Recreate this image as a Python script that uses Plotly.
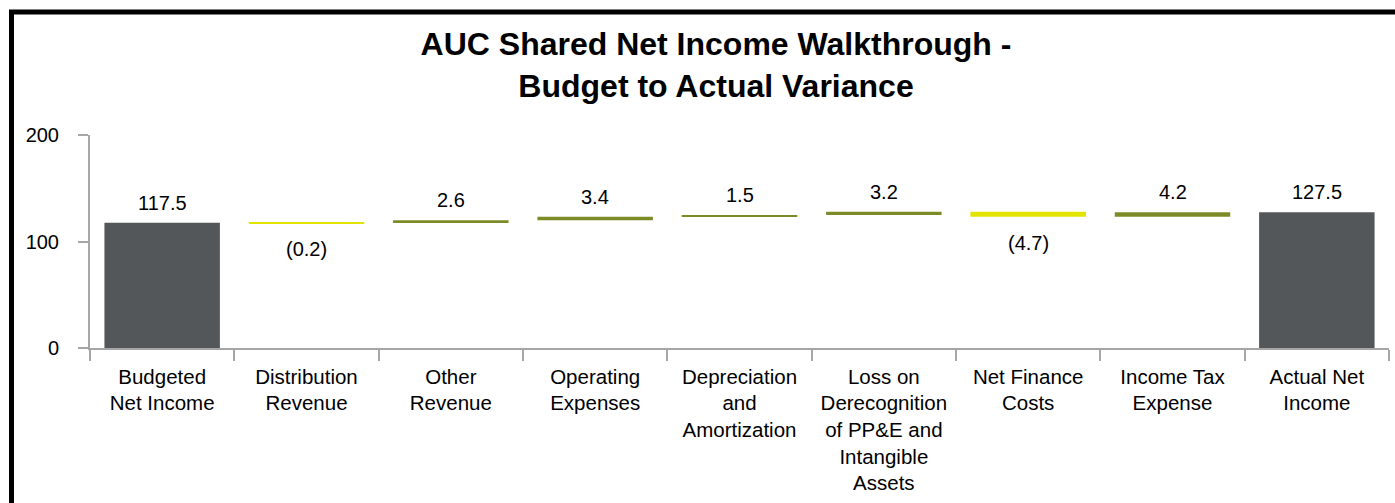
import plotly.graph_objects as go

categories = ["Budgeted<br>Net Income", "Distribution<br>Revenue", "Other<br>Revenue",
              "Operating<br>Expenses", "Depreciation<br>and<br>Amortization",
              "Loss on<br>Derecognition<br>of PP&E and<br>Intangible<br>Assets",
              "Net Finance<br>Costs", "Income Tax<br>Expense", "Actual Net<br>Income"]
values = [117.5, -0.2, 2.6, 3.4, 1.5, 3.2, -4.7, 4.2, 127.5]
measures = ["absolute", "relative", "relative", "relative", "relative",
            "relative", "relative", "relative", "total"]
labels = ["117.5", "(0.2)", "2.6", "3.4", "1.5", "3.2", "(4.7)", "4.2", "127.5"]
y_ticks = [0, 100, 200]

W, H = 1395, 503
ML, MR, MT, MB = 90, 6, 135, 155
FONT = "Liberation Sans, Arial, sans-serif"

fig = go.Figure(go.Waterfall(
    x=categories, y=values, measure=measures,
    increasing=dict(marker=dict(color="#7C8B26")),
    decreasing=dict(marker=dict(color="#E3E300")),
    totals=dict(marker=dict(color="#54575A")),
    connector=dict(visible=False),
    hoverinfo="x+y",
))

# value labels: above the bar for increases/totals, below for decreases
running = 0.0
for cat, val, meas, lab in zip(categories, values, measures, labels):
    if meas == "absolute":
        base, top = 0.0, val
        running = val
    elif meas == "total":
        base, top = 0.0, running
    else:
        base, top = running, running + val
        running = top
    if meas == "relative" and val < 0:
        fig.add_annotation(x=cat, y=min(base, top), text=lab, showarrow=False,
                           yanchor="middle", yshift=-26,
                           font=dict(family=FONT, size=20, color="#000000"))
    else:
        fig.add_annotation(x=cat, y=max(base, top), text=lab, showarrow=False,
                           yanchor="middle", yshift=20,
                           font=dict(family=FONT, size=20, color="#000000"))

pw = W - ML - MR
ph = H - MT - MB
fig.add_shape(type="rect", xref="paper", yref="paper",
              x0=(11.5 - ML) / pw, x1=(W + 20 - ML) / pw,
              y0=(H - MB - (H + 20)) / ph, y1=(H - MB - 12) / ph,
              line=dict(color="#000000", width=5), fillcolor="rgba(0,0,0,0)", layer="above")

fig.update_layout(
    width=W, height=H,
    margin=dict(l=ML, r=MR, t=MT, b=MB, autoexpand=False),
    paper_bgcolor="white", plot_bgcolor="white",
    showlegend=False,
    bargap=0.285,
    font=dict(family=FONT, size=20, color="#000000"),
    title=dict(text="<b>AUC Shared Net Income Walkthrough -</b><br><b>Budget to Actual Variance</b>",
               x=716 / W, xanchor="center", y=1 - 55 / H, yanchor="top",
               font=dict(family=FONT, size=32, color="#000000")),
    xaxis=dict(showline=True, linecolor="#A6A6A6", linewidth=2,
               ticks="outside", tickson="boundaries", ticklen=11, tickwidth=2, tickcolor="#A6A6A6",
               showgrid=False, tickfont=dict(family=FONT, size=20.5, color="#000000"),
               ticklabelstandoff=9),
    yaxis=dict(range=[0, 200], tickvals=y_ticks, showline=True, linecolor="#A6A6A6", linewidth=2,
               ticks="outside", ticklen=10, tickwidth=2, tickcolor="#A6A6A6",
               showgrid=False, zeroline=False,
               tickfont=dict(family=FONT, size=20, color="#000000"),
               ticklabelstandoff=15),
)

fig.write_html("out.html", config={"displayModeBar": False},
               post_script="document.body.style.margin='0';")
